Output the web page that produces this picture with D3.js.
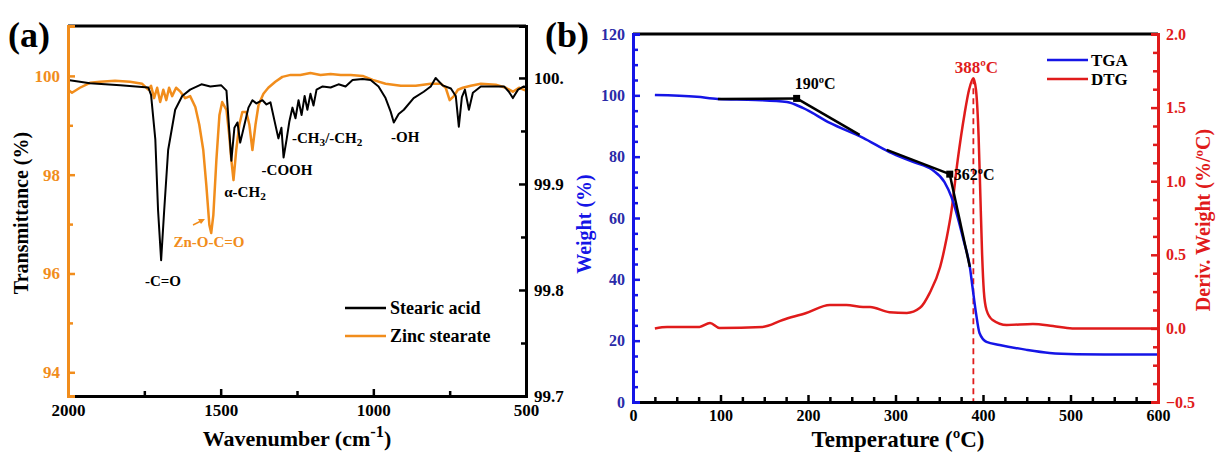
<!DOCTYPE html>
<html>
<head>
<meta charset="utf-8">
<script src="https://cdn.jsdelivr.net/npm/d3@7"></script>
<style>
  body { margin: 0; background: #fff; }
  svg { display: block; }
  text { font-family: "Liberation Serif", "Times New Roman", serif; font-weight: bold; }
</style>
</head>
<body>
<svg id="chart" width="1225" height="453"></svg>
<script>
// ---- panel (a): FTIR ----
var stearicWn = [2000,1928,1829,1737,1728,1714,1705,1695,1685,1672,1649,1626,1600,1563,1534,1498,1481,1472,1465,1455,1445,1436,1422,1409,1396,1383,1363,1350,1337,1324,1311,1301,1294,1284,1275,1265,1255,1245,1235,1225,1216,1206,1196,1186,1166,1140,1114,1091,1068,1035,1009,983,960,943,933,917,900,868,835,812,796,773,746,730,720,710,700,687,674,648,615,572,556,543,526,507,500];
var stearicT = [99.998,99.995,99.993,99.991,99.984,99.942,99.875,99.828,99.875,99.932,99.970,99.983,99.989,99.994,99.992,99.993,99.988,99.951,99.922,99.953,99.958,99.939,99.956,99.972,99.979,99.976,99.979,99.975,99.977,99.960,99.943,99.953,99.925,99.942,99.959,99.972,99.962,99.979,99.965,99.983,99.970,99.985,99.974,99.989,99.992,99.991,99.994,99.992,99.998,99.999,99.998,99.992,99.981,99.968,99.958,99.966,99.970,99.981,99.987,99.992,100.000,99.993,99.990,99.983,99.954,99.982,99.989,99.970,99.986,99.992,99.992,99.992,99.987,99.981,99.989,99.992,99.991];

var zincWn = [2000,1987,1961,1928,1895,1846,1797,1757,1737,1728,1718,1708,1698,1688,1678,1669,1659,1646,1632,1616,1600,1583,1570,1557,1547,1537,1531,1524,1514,1504,1495,1481,1472,1465,1458,1449,1439,1429,1416,1406,1396,1386,1376,1360,1344,1321,1298,1271,1239,1206,1173,1140,1107,1074,1035,1002,960,910,861,812,779,763,750,736,723,707,681,648,599,566,543,523,500];
var zincT = [99.72,99.66,99.76,99.86,99.88,99.90,99.88,99.84,99.72,99.80,99.55,99.76,99.47,99.72,99.51,99.76,99.59,99.76,99.68,99.55,99.59,99.37,99.01,98.50,97.79,96.98,96.82,97.18,98.30,99.21,99.47,99.31,98.80,98.30,97.89,98.50,99.01,99.27,99.27,99.01,98.50,99.01,99.41,99.64,99.76,99.88,99.98,100.02,100.02,100.06,100.02,100.04,100.02,100.02,100.00,99.92,99.84,99.80,99.80,99.84,99.84,99.76,99.51,99.59,99.72,99.76,99.80,99.84,99.82,99.76,99.68,99.76,99.70];

var wnTicks = [2000, 1500, 1000, 500];
var wnMinor = [1750, 1250, 750];
var leftTicksA = [94, 96, 98, 100];
var leftMinorA = [95, 97, 99];
var rightTicksA = [99.7, 99.8, 99.9, 100];
var rightTickLabelsA = ["99.7", "99.8", "99.9", "100."];
var rightMinorA = [99.75, 99.85, 99.95];

// ---- panel (b): TGA / DTG ----
var tgaTemp = [25,73,97,140,176,194,225,263,293,320,342,356,364,371,378,385,388,392,396,404,419,450,476,507,550,600];
var tgaWeight = [100.1,99.5,98.8,98.5,97.8,95.9,91.0,86.1,81.5,78.3,75.7,71.7,66.8,60.3,52.5,44.0,37.5,29.0,22.5,19.6,18.6,17.0,16.0,15.6,15.5,15.5];
var dtgTemp = [25,39,76,88,99,148,171,198,225,244,263,271,293,313,328,339,351,358,364,371,379,384,389,392,395,397,399,401,404,411,427,457,480,502,550,600];
var dtgValue = [0.0,0.01,0.01,0.037,0.003,0.01,0.057,0.105,0.159,0.159,0.145,0.145,0.11,0.105,0.14,0.24,0.417,0.6,0.80,1.14,1.46,1.62,1.70,1.62,1.30,0.90,0.50,0.25,0.125,0.057,0.023,0.03,0.016,0.0,0.0,0.0];
// tangent construction lines (temperature, weight)
var tangentLines = [
  [[97, 98.8], [187, 99.0]],
  [[187, 99.0], [259, 87.1]],
  [[290, 82.2], [362, 74.3]],
  [[362, 74.3], [385, 44.0]]
];
var onsetMarks = [[187, 99.0, "190ºC"], [362, 74.3, "362ºC"]];
var peakTemp = 389, peakValue = 1.70, peakLabel = "388ºC";

var tempTicks = [0, 100, 200, 300, 400, 500, 600];
var tempMinor = d3.range(25, 600, 25).filter(function(d) { return d % 100 !== 0; });
var weightTicks = [0, 20, 40, 60, 80, 100, 120];
var weightMinor = d3.range(5, 120, 5).filter(function(d) { return d % 20 !== 0; });
var dtgTicks = [-0.5, 0, 0.5, 1.0, 1.5, 2.0];
var dtgMinor = d3.range(-0.375, 2.0, 0.125).filter(function(d) { return Math.abs(d * 2 - Math.round(d * 2)) > 1e-6; });

var ORANGE = "#f18d1c", BLUE = "#1515e6", RED = "#e01b1b", NAVY = "#2a2aa8";

var svg = d3.select("#chart");

function addAxis(g, axisFn, scale, ticks, minor, color, labelColor, fmt, labelsArr, fontSize) {
  var major = axisFn(scale).tickValues(ticks).tickSize(-7).tickPadding(8)
    .tickFormat(labelsArr ? function(d, i) { return labelsArr[i]; } : fmt);
  var ag = g.call(major);
  ag.select(".domain").attr("stroke", color).attr("stroke-width", 3);
  ag.selectAll(".tick line").attr("stroke", color).attr("stroke-width", 2.5);
  ag.selectAll(".tick text").attr("fill", labelColor)
    .style("font-family", '"Liberation Serif", serif').style("font-weight", "bold")
    .style("font-size", (fontSize || 16) + "px");
  if (minor) {
    var mg = g.append("g").call(axisFn(scale).tickValues(minor).tickSize(-5).tickFormat(""));
    mg.select(".domain").remove();
    mg.selectAll(".tick line").attr("stroke", color).attr("stroke-width", 2.5);
  }
}

// ===== Panel (a) =====
var xA = d3.scaleLinear().domain([2000, 500]).range([68, 526]);
var yAL = d3.scaleLinear().domain([93.52, 101.01]).range([396, 26]);
var yAR = d3.scaleLinear().domain([99.7, 100.049]).range([396, 26]);

var lineZinc = d3.line().x(function(d, i) { return xA(zincWn[i]); }).y(function(d) { return yAL(d); });
var lineStearic = d3.line().x(function(d, i) { return xA(stearicWn[i]); }).y(function(d) { return yAR(d); });

svg.append("path").datum(zincT).attr("d", lineZinc)
  .attr("fill", "none").attr("stroke", ORANGE).attr("stroke-width", 2.5).attr("stroke-linejoin", "round");
svg.append("path").datum(stearicT).attr("d", lineStearic)
  .attr("fill", "none").attr("stroke", "#000").attr("stroke-width", 2).attr("stroke-linejoin", "round");

// top border
svg.append("line").attr("x1", 68).attr("x2", 526).attr("y1", 26).attr("y2", 26)
  .attr("stroke", "#000").attr("stroke-width", 3);

addAxis(svg.append("g").attr("transform", "translate(0,396)"), d3.axisBottom, xA, wnTicks, wnMinor, "#000", "#000", d3.format("d"), null, 17);
addAxis(svg.append("g").attr("transform", "translate(68,0)"), d3.axisLeft, yAL, leftTicksA, leftMinorA, ORANGE, ORANGE, d3.format("d"), null, 17);
addAxis(svg.append("g").attr("transform", "translate(526,0)"), d3.axisRight, yAR, rightTicksA, rightMinorA, "#000", "#000", null, rightTickLabelsA, 17);

function label(x, y, txt, opts) {
  opts = opts || {};
  var t = svg.append("text").attr("x", x).attr("y", y)
    .attr("text-anchor", opts.anchor || "start")
    .attr("fill", opts.color || "#000")
    .style("font-size", (opts.size || 15) + "px");
  if (opts.rotate) t.attr("transform", "rotate(-90," + x + "," + y + ")");
  if (Array.isArray(txt)) {
    txt.forEach(function(p) {
      var s = t.append("tspan").text(p[0]);
      if (p[1] === "sub") s.attr("baseline-shift", "-25%").style("font-size", ((opts.size || 15) * 0.75) + "px");
      if (p[1] === "sup") s.attr("baseline-shift", "super").style("font-size", ((opts.size || 15) * 0.75) + "px");
    });
  } else t.text(txt);
  return t;
}

label(8, 47, "(a)", {size: 36});
label(163, 286, "-C=O", {anchor: "middle", size: 15});
label(209, 247, "Zn-O-C=O", {anchor: "middle", size: 15, color: ORANGE});
svg.append("line").attr("x1", 193).attr("y1", 225).attr("x2", 203).attr("y2", 220)
  .attr("stroke", ORANGE).attr("stroke-width", 1.5);
svg.append("path").attr("d", "M205,219 L198,219 L201,224 Z").attr("fill", ORANGE);
label(245, 197, [["α-CH"], ["2", "sub"]], {anchor: "middle", size: 15});
label(287, 175, "-COOH", {anchor: "middle", size: 15});
label(292, 143, [["-CH"], ["3", "sub"], ["/-CH"], ["2", "sub"]], {size: 15});
label(391, 142, "-OH", {size: 15});

// legend (a)
[["Stearic acid", "#000", 308], ["Zinc stearate", ORANGE, 336]].forEach(function(l) {
  svg.append("line").attr("x1", 345).attr("x2", 386).attr("y1", l[2]).attr("y2", l[2])
    .attr("stroke", l[1]).attr("stroke-width", 2.5);
  label(390, l[2] + 6, l[0], {size: 18});
});

label(28, 213, "Transmittance (%)", {anchor: "middle", size: 20, rotate: true});
label(297, 446, [["Wavenumber (cm"], ["-1", "sup"], [")"]], {anchor: "middle", size: 22});

// ===== Panel (b) =====
var xB = d3.scaleLinear().domain([0, 600]).range([633, 1158]);
var yBL = d3.scaleLinear().domain([0, 120]).range([402, 34]);
var yBR = d3.scaleLinear().domain([-0.5, 2.0]).range([402, 34]);

var lineTga = d3.line().curve(d3.curveMonotoneX)
  .x(function(d, i) { return xB(tgaTemp[i]); }).y(function(d) { return yBL(d); });
var lineDtg = d3.line().curve(d3.curveMonotoneX)
  .x(function(d, i) { return xB(dtgTemp[i]); }).y(function(d) { return yBR(d); });

// dashed peak marker
svg.append("line").attr("x1", xB(peakTemp)).attr("x2", xB(peakTemp))
  .attr("y1", yBR(peakValue)).attr("y2", yBR(-0.5))
  .attr("stroke", RED).attr("stroke-width", 1.8).attr("stroke-dasharray", "6,4");

svg.append("path").datum(dtgValue).attr("d", lineDtg)
  .attr("fill", "none").attr("stroke", RED).attr("stroke-width", 2.5);
svg.append("path").datum(tgaWeight).attr("d", lineTga)
  .attr("fill", "none").attr("stroke", BLUE).attr("stroke-width", 2.5);

tangentLines.forEach(function(seg) {
  svg.append("line").attr("x1", xB(seg[0][0])).attr("y1", yBL(seg[0][1]))
    .attr("x2", xB(seg[1][0])).attr("y2", yBL(seg[1][1]))
    .attr("stroke", "#000").attr("stroke-width", 2.5);
});
onsetMarks.forEach(function(m) {
  svg.append("rect").attr("x", xB(m[0]) - 3.5).attr("y", yBL(m[1]) - 3.5)
    .attr("width", 7).attr("height", 7).attr("fill", "#000");
});
label(xB(187) - 2, yBL(99.0) - 9, onsetMarks[0][2], {size: 16});
label(xB(362) + 4, yBL(74.3) + 6, onsetMarks[1][2], {size: 16});
label(xB(peakTemp) + 3, yBR(peakValue) - 5, peakLabel, {anchor: "middle", size: 17, color: RED});

svg.append("line").attr("x1", 633).attr("x2", 1158).attr("y1", 34).attr("y2", 34)
  .attr("stroke", "#000").attr("stroke-width", 3);

addAxis(svg.append("g").attr("transform", "translate(0,402)"), d3.axisBottom, xB, tempTicks, tempMinor, "#000", "#000", d3.format("d"));
addAxis(svg.append("g").attr("transform", "translate(633,0)"), d3.axisLeft, yBL, weightTicks, weightMinor, BLUE, NAVY, d3.format("d"));
addAxis(svg.append("g").attr("transform", "translate(1158,0)"), d3.axisRight, yBR, dtgTicks, dtgMinor, RED, RED, d3.format(".1f"));

// legend (b)
[["TGA", BLUE, 60], ["DTG", RED, 79]].forEach(function(l) {
  svg.append("line").attr("x1", 1047).attr("x2", 1088).attr("y1", l[2]).attr("y2", l[2])
    .attr("stroke", l[1]).attr("stroke-width", 2.5);
  label(1091, l[2] + 6, l[0], {size: 17});
});

label(545, 47, "(b)", {size: 36});
label(591, 224, "Weight (%)", {anchor: "middle", size: 20, rotate: true, color: BLUE});
label(1210, 220, "Deriv. Weight (%/ºC)", {anchor: "middle", size: 20, rotate: true, color: RED});
label(898, 447, "Temperature (ºC)", {anchor: "middle", size: 23});
</script>
</body>
</html>
